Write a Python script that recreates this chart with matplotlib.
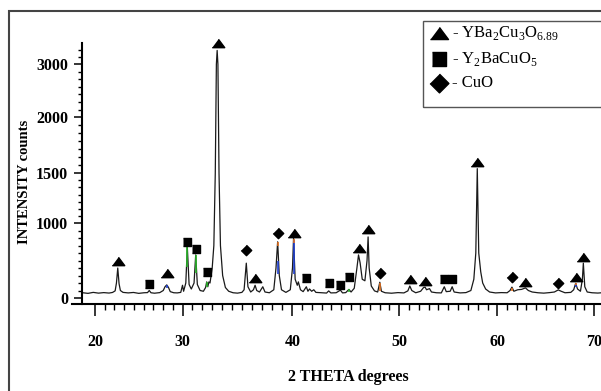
import numpy as np
import matplotlib.pyplot as plt
from matplotlib.lines import Line2D
from matplotlib.patches import Rectangle
from matplotlib.ticker import FixedLocator

plt.rcParams['font.family'] = 'serif'
plt.rcParams['font.serif'] = ['Liberation Serif', 'DejaVu Serif']
plt.rcParams['mathtext.fontset'] = 'custom'
plt.rcParams['mathtext.rm'] = 'Liberation Serif'

# traced diffraction pattern (2 theta, counts)
two_theta = [18.6, 19.2, 19.8, 20.4, 21.0, 21.6, 22.0, 22.3, 22.45, 22.6, 22.75, 22.9, 23.2,
             23.8, 24.4, 25.0, 25.6, 26.0, 26.2, 26.4, 26.8, 27.4, 27.8, 28.0, 28.2, 28.4,
             28.6, 29.0, 29.4, 29.8, 30.0, 30.1, 30.3, 30.44, 30.6, 30.8, 31.05, 31.2, 31.35,
             31.6, 31.9, 32.1, 32.2, 32.3, 32.4, 32.5, 32.7, 32.85, 32.98, 33.08, 33.15, 33.22,
             33.32, 33.45, 33.65, 33.9, 34.2, 34.6, 35.0, 35.4, 35.6, 35.8, 35.95, 36.2, 36.45,
             36.6, 36.75, 37.0, 37.3, 37.5, 37.9, 38.3, 38.5, 38.65, 38.8, 39.0, 39.4, 39.8,
             40.0, 40.1, 40.25, 40.45, 40.55, 40.75, 41.0, 41.3, 41.45, 41.6, 41.8, 42.0, 42.2,
             42.7, 43.2, 43.4, 43.6, 44.1, 44.5, 44.7, 45.0, 45.3, 45.5, 45.8, 46.05, 46.2,
             46.35, 46.55, 46.8, 47.0, 47.1, 47.2, 47.4, 47.7, 48.0, 48.2, 48.35, 48.7, 49.3,
             49.9, 50.5, 50.9, 51.1, 51.3, 51.7, 52.2, 52.5, 52.65, 52.8, 53.1, 53.3, 53.8,
             54.3, 54.6, 54.8, 55.2, 55.4, 55.6, 56.2, 56.8, 57.3, 57.6, 57.8, 57.95, 58.1,
             58.3, 58.5, 58.8, 59.2, 59.8, 60.4, 61.0, 61.3, 61.5, 61.7, 62.1, 62.5, 62.9,
             63.2, 63.6, 64.2, 64.8, 65.4, 65.9, 66.3, 66.6, 67.0, 67.6, 67.9, 68.1, 68.3,
             68.6, 68.8, 68.9, 69.05, 69.3, 69.8, 70.4, 71.0]
counts = [70, 62, 75, 65, 72, 66, 74, 95, 200, 400, 190, 100, 75,
          68, 74, 62, 70, 72, 100, 70, 64, 72, 100, 150, 175, 140,
          85, 70, 68, 75, 170, 90, 200, 675, 180, 120, 200, 575, 180,
          100, 90, 140, 215, 150, 215, 200, 400, 700, 1500, 3000, 3260, 3000,
          1500, 700, 300, 140, 90, 70, 65, 75, 110, 465, 150, 80, 110,
          170, 100, 80, 150, 80, 70, 110, 400, 750, 300, 110, 75, 110,
          400, 795, 250, 170, 215, 110, 85, 150, 90, 120, 90, 110, 75,
          70, 66, 95, 68, 70, 105, 68, 72, 115, 80, 130, 400, 575,
          470, 250, 230, 500, 815, 400, 160, 95, 80, 210, 90, 70, 64,
          72, 68, 95, 160, 100, 70, 90, 140, 145, 110, 125, 80, 70,
          68, 150, 85, 90, 150, 80, 68, 72, 100, 250, 600, 1540, 600,
          350, 200, 120, 80, 68, 72, 70, 100, 145, 90, 110, 115, 135,
          100, 80, 70, 65, 72, 80, 108, 90, 70, 75, 110, 195, 120,
          90, 250, 465, 150, 80, 70, 66, 72]

# phase markers
ybco_x = [22.6, 28.2, 33.2, 36.6, 40.1, 46.2, 47.1, 51.1, 52.65, 57.95, 62.9, 68.1, 68.9]
ybco_y = [493, 337, 3396, 267, 871, 663, 920, 253, 227, 1601, 217, 276, 551]
y211_x = [26.2, 30.44, 31.2, 32.2, 41.3, 43.4, 44.5, 45.3, 54.6, 55.4]
y211_y = [187, 747, 653, 347, 267, 204, 173, 284, 249, 249]
cuo_x = [35.8, 38.65, 48.2, 61.5, 66.3]
cuo_y = [640, 863, 329, 276, 196]

# small coloured reference sticks on peaks
stick_x = [30.44, 31.2, 32.2, 45.3, 28.2, 38.65, 40.1, 68.1, 38.65, 40.1, 48.2, 61.5, 68.1]
stick_lo = [420, 340, 150, 80, 140, 320, 320, 150, 700, 740, 90, 90, 170]
stick_hi = [675, 575, 215, 115, 175, 500, 770, 185, 750, 790, 200, 140, 195]
stick_c = ['#2bb52b'] * 4 + ['#2040d0'] * 4 + ['#e07020'] * 5

x_ticks = [20, 30, 40, 50, 60, 70]
y_ticks = [0, 1000, 1500, 2000, 3000]

# axis calibration of the printed scales
x_knots = [10, 20, 30, 40, 50, 60, 70, 80]
x_pos = [7.5, 95, 182.5, 292.5, 399, 497.5, 594, 690.5]
y_knots = [-1000, 0, 1000, 1500, 2000, 3000, 4000]
y_pos = [-75, 0, 75, 125, 181, 234, 287]


def fx(v):
    return np.interp(v, x_knots, x_pos)


def ix(p):
    return np.interp(p, x_pos, x_knots)


def fy(v):
    return np.interp(v, y_knots, y_pos)


def iy(p):
    return np.interp(p, y_pos, y_knots)


W, H = 601, 391
fig = plt.figure(figsize=(W / 100, H / 100), dpi=100)
ax = fig.add_axes([72 / W, 1 - 304 / H, 529 / W, 261 / H])
ax.set_xscale('function', functions=(fx, ix))
ax.set_yscale('function', functions=(fy, iy))
ax.set_xlim(17.37, 70.73)
ax.set_ylim(-80, 3400)

ax.plot(two_theta, counts, color='#1a1a1a', lw=0.9)
ax.vlines(stick_x, stick_lo, stick_hi, colors=stick_c, lw=1.2)

tri = [(-1, -0.67), (1, -0.67), (0, 0.67)]
sq = [(-1, -1), (1, -1), (1, 1), (-1, 1)]
dia = [(0, 1), (1, 0), (0, -1), (-1, 0)]
ax.plot(ybco_x, ybco_y, ls='none', marker=tri, ms=9, color='black', clip_on=False)
ax.plot(y211_x, y211_y, ls='none', marker=sq, ms=5.5, color='black', clip_on=False)
ax.plot(cuo_x, cuo_y, ls='none', marker=dia, ms=7.5, color='black', clip_on=False)

for s in ['top', 'right']:
    ax.spines[s].set_visible(False)
ax.spines['left'].set_position(('axes', 10 / 529))
ax.spines['left'].set_linewidth(1.5)
ax.spines['bottom'].set_linewidth(1.5)

ax.set_xticks(x_ticks)
ax.set_xticklabels([str(t) for t in x_ticks], fontweight='bold', fontsize=11.5)
x_minor = []
for a, b, n in [(20, 30, 9), (30, 40, 11), (40, 50, 11), (50, 60, 10), (60, 70, 10)]:
    x_minor += list(np.linspace(a, b, n + 1)[1:-1])
ax.xaxis.set_minor_locator(FixedLocator(x_minor))

ax.set_yticks(y_ticks)
ax.set_yticklabels([str(t) for t in y_ticks], fontweight='bold', fontsize=11.5)
y_minor = []
for a, b, n in [(0, 1000, 10), (1000, 1500, 7), (1500, 2000, 7), (2000, 3000, 7), (3000, 3400, 3)]:
    y_minor += list(np.linspace(a, b, n + 1)[1:-1])
ax.yaxis.set_minor_locator(FixedLocator(y_minor))

ax.tick_params(axis='x', which='major', length=8.5, width=1.1, pad=13)
ax.tick_params(axis='x', which='minor', length=4, width=1.0)
ax.tick_params(axis='y', which='major', length=6, width=1.1, pad=4)
ax.tick_params(axis='y', which='minor', length=3, width=1.0)

ax.set_xlabel('2 THETA degrees', fontweight='bold', fontsize=11.5)
ax.xaxis.set_label_coords((348 - 72) / 529, (304 - 369) / 261)
ax.set_ylabel('INTENSITY counts', fontweight='bold', fontsize=10.5)
ax.yaxis.set_label_coords((31 - 72) / 529, (304 - 182) / 261)

# outer frame
fig.add_artist(Rectangle((8.5 / W, 1 - 500 / H), 700 / W, (500 - 10.5) / H,
                         transform=fig.transFigure, fill=False, ec='#444444', lw=1.5))

# legend box
fig.add_artist(Rectangle((423 / W, 1 - 107 / H), 200 / W, 86 / H,
                         transform=fig.transFigure, fill=False, ec='#555555', lw=1.0))
legend_items = [(tri, 13, 33, r'- YBa$_2$Cu$_3$O$_{6.89}$'),
                (sq, 10, 59, r'- Y$_2$BaCuO$_5$'),
                (dia, 13.5, 83, '- CuO')]
for mk, size, ypx, label in legend_items:
    fig.add_artist(Line2D([439 / W], [1 - ypx / H], marker=mk, ms=size, color='black',
                          ls='none', transform=fig.transFigure))
    fig.text(452 / W, 1 - ypx / H, label, fontsize=12, va='center', ha='left')

fig.savefig('out.png', dpi=100)
